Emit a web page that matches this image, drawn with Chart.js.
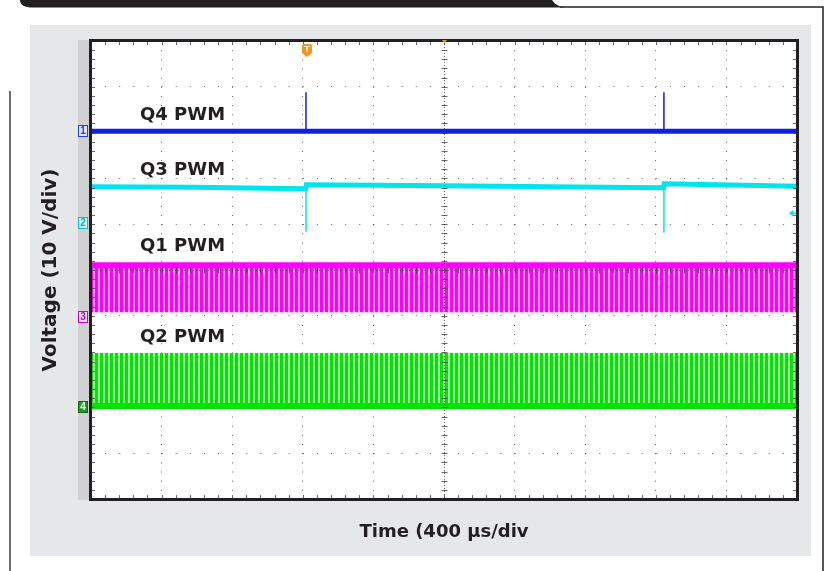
<!DOCTYPE html>
<html><head><meta charset="utf-8">
<script src="https://cdn.jsdelivr.net/npm/chart.js@4.4.1/dist/chart.umd.min.js"></script>
<style>html,body{margin:0;padding:0;background:#fff;}#wrap{width:830px;height:571px;}</style>
</head><body><div id="wrap"><canvas id="c" width="830" height="571"></canvas></div>
<script>
// ---- axis ranges (time in µs, screen volts at 10 V/div) ----
const xMinUs = 0, xMaxUs = 4000, xStepUs = 400;
const yMinV = -50, yMaxV = 50, yStepV = 10;
const xTitle = 'Time (400 µs/div';
const yTitle = 'Voltage (10 V/div)';

// ---- channels ----
const chNames = ['Q4 PWM', 'Q3 PWM', 'Q1 PWM', 'Q2 PWM'];
const chNumbers = ['1', '2', '3', '4'];
const chGround = [30.3, 10.3, -10.3, -29.9];   // ground marker of each channel (screen volts)

// Q4 (CH1)
const q4Times = [0, 4000];
const q4Volts = [0.0, 0.0];
const q4SpikeTimes = [1218, 3246];
const q4SpikeBase = [0.0, 0.0];
const q4SpikePeak = [8.5, 8.5];

// Q3 (CH2)
const q3Times = [0, 600, 1000, 1216, 1220, 2000, 2600, 3244, 3248, 3700, 4000];
const q3Volts = [7.86, 7.75, 7.53, 7.42, 8.30, 8.08, 7.86, 7.64, 8.52, 8.19, 7.97];
const q3SpikeTimes = [1218, 3246];
const q3SpikeBase = [7.9, 8.1];
const q3SpikePeak = [-1.97, -2.18];

// Q1 (CH3) switching envelope
const q1Times = [0, 4000];
const q1High = [11.35, 11.35];
const q1Low = [1.1, 1.1];

// Q2 (CH4) switching envelope
const q2Times = [0, 4000];
const q2High = [11.8, 11.8];
const q2Low = [0.2, 0.2];

// trigger
const triggerTimeUs = 1218;
const triggerLevelV = 2.1;   // on CH2

// ---- build datasets ----
function pts(times, volts, ch) {
  return times.map((t, i) => ({ x: t, y: chGround[ch] + volts[i] }));
}
function spikes(times, base, peak, ch) {
  const out = [];
  times.forEach((t, i) => {
    out.push({ x: t, y: chGround[ch] + base[i] });
    out.push({ x: t, y: chGround[ch] + peak[i] });
    out.push({ x: t, y: null });
  });
  return out;
}
const cv = document.getElementById('c');
const mainCtx = cv.getContext('2d');
function stripes(main, light) {
  const c = document.createElement('canvas');
  c.width = 5; c.height = 1;
  const g = c.getContext('2d');
  g.fillStyle = main; g.fillRect(0, 0, 3, 1);
  g.fillStyle = light; g.fillRect(3, 0, 2, 1);
  return mainCtx.createPattern(c, 'repeat');
}
const C_BLUE = '#1020e0', C_CYAN = '#00e4ee', C_MAG = '#ff00ff', C_GRN = '#00e400';

const base = { pointRadius: 0, tension: 0, borderCapStyle: 'butt', fill: false };
const datasets = [
  Object.assign({}, base, { label: 'Q4 spikes', data: spikes(q4SpikeTimes, q4SpikeBase, q4SpikePeak, 0), borderColor: C_BLUE, borderWidth: 1.5 }),
  Object.assign({}, base, { label: 'Q4 PWM', data: pts(q4Times, q4Volts, 0), borderColor: C_BLUE, borderWidth: 5 }),
  Object.assign({}, base, { label: 'Q3 spikes', data: spikes(q3SpikeTimes, q3SpikeBase, q3SpikePeak, 1), borderColor: C_CYAN, borderWidth: 1.5 }),
  Object.assign({}, base, { label: 'Q3 PWM', data: pts(q3Times, q3Volts, 1), borderColor: C_CYAN, borderWidth: 5 }),
  Object.assign({}, base, { label: 'Q1 PWM high', data: pts(q1Times, q1High, 2), borderColor: C_MAG, borderWidth: 6 }),
  Object.assign({}, base, { label: 'Q1 PWM low', data: pts(q1Times, q1Low, 2), borderColor: 'rgba(0,0,0,0)', borderWidth: 0, fill: '-1', backgroundColor: stripes('#ff00ff', '#ff9cff') }),
  Object.assign({}, base, { label: 'Q2 PWM low', data: pts(q2Times, q2Low, 3), borderColor: C_GRN, borderWidth: 6 }),
  Object.assign({}, base, { label: 'Q2 PWM high', data: pts(q2Times, q2High, 3), borderColor: 'rgba(0,0,0,0)', borderWidth: 0, fill: '-1', backgroundColor: stripes('#00e400', '#a8f5a8') })
];

// ---- decoration plugin ----
const scopePlugin = {
  id: 'scope',
  beforeDraw(chart) {
    const ctx = chart.ctx, a = chart.chartArea;
    ctx.save();
    ctx.fillStyle = '#ffffff'; ctx.fillRect(0, 0, chart.width, chart.height);
    // gray panel
    ctx.fillStyle = '#e6e7e8'; ctx.fillRect(30, 25, 781, 531);
    ctx.fillStyle = '#d0d1d2'; ctx.fillRect(a.left - 13, a.top - 1, 13, a.height + 2);
    ctx.fillStyle = '#ffffff'; ctx.fillRect(a.left, a.top, a.width, a.height);
    // top dark bar and frame lines
    ctx.fillStyle = '#231f20';
    ctx.beginPath();
    ctx.moveTo(20, 0); ctx.lineTo(552, 0);
    ctx.quadraticCurveTo(556, 6.5, 565, 7.5);
    ctx.lineTo(33, 7.5);
    ctx.quadraticCurveTo(20, 7.5, 20, 0);
    ctx.closePath(); ctx.fill();
    ctx.strokeStyle = '#231f20'; ctx.lineWidth = 1.5;
    ctx.beginPath(); ctx.moveTo(560, 7); ctx.lineTo(823, 7); ctx.lineTo(823, 571); ctx.stroke();
    ctx.strokeStyle = '#6d6e71'; ctx.lineWidth = 2;
    ctx.beginPath(); ctx.moveTo(10, 91); ctx.lineTo(10, 571); ctx.stroke();
    ctx.restore();
  },
  afterDraw(chart) {
    const ctx = chart.ctx, a = chart.chartArea;
    const xs = chart.scales.x, ys = chart.scales.y;
    ctx.save();
    // center cross with minor ticks
    const cx = Math.round(xs.getPixelForValue((xMinUs + xMaxUs) / 2)) + 0.5;
    const cy = Math.round(ys.getPixelForValue((yMinV + yMaxV) / 2)) + 0.5;
    ctx.strokeStyle = 'rgba(60,60,60,0.75)'; ctx.lineWidth = 1;
    ctx.setLineDash([1, 2]);
    ctx.beginPath();
    ctx.moveTo(cx, a.top); ctx.lineTo(cx, a.bottom);
    ctx.moveTo(a.left, cy); ctx.lineTo(a.right, cy);
    ctx.stroke();
    ctx.setLineDash([]);
    ctx.beginPath();
    for (let t = xMinUs; t <= xMaxUs; t += xStepUs / 5) {
      const x = Math.round(xs.getPixelForValue(t)) + 0.5;
      ctx.moveTo(x, cy - 3); ctx.lineTo(x, cy + 3);
      ctx.moveTo(x, a.top); ctx.lineTo(x, a.top + 4);
      ctx.moveTo(x, a.bottom); ctx.lineTo(x, a.bottom - 4);
    }
    for (let v = yMinV; v <= yMaxV; v += yStepV / 5) {
      const y = Math.round(ys.getPixelForValue(v)) + 0.5;
      ctx.moveTo(cx - 3, y); ctx.lineTo(cx + 3, y);
      ctx.moveTo(a.left, y); ctx.lineTo(a.left + 4, y);
      ctx.moveTo(a.right, y); ctx.lineTo(a.right - 4, y);
    }
    ctx.stroke();
    // plot border
    ctx.strokeStyle = '#231f20'; ctx.lineWidth = 3;
    ctx.strokeRect(a.left - 0.5, a.top - 0.5, a.width + 1, a.height + 1);

    // channel labels
    ctx.fillStyle = '#231f20';
    ctx.font = 'bold 18px "DejaVu Sans"';
    ctx.textBaseline = 'alphabetic'; ctx.textAlign = 'left';
    const labelY = [120, 175, 251, 342];
    chNames.forEach((n, i) => ctx.fillText(n, 140, labelY[i]));

    // channel ground markers
    const mk = [
      { s: '#2040ff', f: '#e2e6ff', t: '#2040ff' },
      { s: '#00c4d4', f: '#dcf8fa', t: '#00aebe' },
      { s: '#d000d0', f: '#ffeaff', t: '#c000c0' },
      { s: '#0c6e0c', f: '#1f9a1f', t: '#ffffff' }
    ];
    ctx.font = 'bold 10px "Liberation Sans"';
    ctx.textAlign = 'center'; ctx.textBaseline = 'middle';
    chGround.forEach((g, i) => {
      const y = Math.round(ys.getPixelForValue(g));
      ctx.fillStyle = mk[i].f; ctx.fillRect(78.5, y - 5.5, 9, 11);
      ctx.strokeStyle = mk[i].s; ctx.lineWidth = 1; ctx.strokeRect(78.5, y - 5.5, 9, 11);
      ctx.fillStyle = mk[i].t; ctx.fillText(chNumbers[i], 83, y + 0.5);
    });

    // trigger position marker
    const tx = xs.getPixelForValue(triggerTimeUs) + 1;
    ctx.fillStyle = '#f7941d';
    ctx.beginPath();
    ctx.moveTo(tx - 5, 46); ctx.quadraticCurveTo(tx - 5, 44, tx - 3, 44);
    ctx.lineTo(tx + 3, 44); ctx.quadraticCurveTo(tx + 5, 44, tx + 5, 46);
    ctx.lineTo(tx + 5, 53); ctx.lineTo(tx, 57); ctx.lineTo(tx - 5, 53);
    ctx.closePath(); ctx.fill();
    ctx.fillStyle = '#ffffff'; ctx.font = 'bold 9px "Liberation Sans"';
    ctx.fillText('T', tx, 50);
    // horizontal position marker (top center)
    ctx.fillStyle = '#f7941d';
    ctx.beginPath(); ctx.moveTo(cx - 2.5, a.top - 1); ctx.lineTo(cx + 2.5, a.top - 1); ctx.lineTo(cx, a.top + 2); ctx.closePath(); ctx.fill();
    // trigger level arrow
    const ly = ys.getPixelForValue(chGround[1] + triggerLevelV);
    ctx.fillStyle = C_CYAN; ctx.strokeStyle = C_CYAN; ctx.lineWidth = 1.5;
    ctx.beginPath(); ctx.moveTo(a.right - 8, ly); ctx.lineTo(a.right - 3.5, ly - 3.5); ctx.lineTo(a.right - 3.5, ly + 3.5); ctx.closePath(); ctx.fill();
    ctx.beginPath(); ctx.moveTo(a.right - 4, ly); ctx.lineTo(a.right - 1, ly); ctx.stroke();
    ctx.restore();
  }
};

new Chart(cv, {
  type: 'line',
  data: { datasets },
  plugins: [scopePlugin],
  options: {
    responsive: false, animation: false, devicePixelRatio: 1, events: [],
    layout: { padding: { left: 0, right: 33, top: 41, bottom: 0 } },
    plugins: { legend: { display: false }, tooltip: { enabled: false } },
    scales: {
      x: {
        type: 'linear', min: xMinUs, max: xMaxUs, z: 1,
        ticks: { stepSize: xStepUs, display: false },
        grid: { color: 'rgba(60,60,60,0.8)', lineWidth: 1, drawTicks: false },
        border: { display: false, dash: [1, 8.16] },
        title: { display: true, text: xTitle, color: '#231f20', font: { family: 'DejaVu Sans', size: 18, weight: 'bold' }, padding: { top: 0, bottom: 28 } },
        afterFit(s) { s.height = 72; }
      },
      y: {
        type: 'linear', min: yMinV, max: yMaxV, z: 1,
        ticks: { stepSize: yStepV, display: false },
        grid: { color: 'rgba(60,60,60,0.8)', lineWidth: 1, drawTicks: false },
        border: { display: false, dash: [1, 13.12] },
        title: { display: true, text: yTitle, color: '#231f20', font: { family: 'DejaVu Sans', size: 20, weight: 'bold' }, padding: { top: 39, bottom: 0 } },
        afterFit(s) { s.width = 91; }
      }
    }
  }
});
</script>
</body></html>
